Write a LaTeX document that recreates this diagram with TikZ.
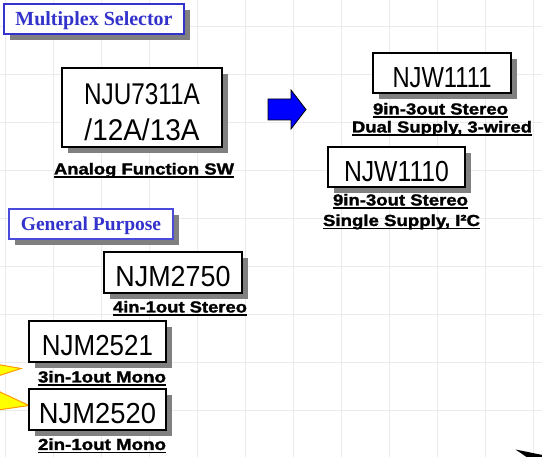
\documentclass[tikz,border=0pt]{standalone}
\usepackage{fontspec}
\usepackage{graphicx}
\setmainfont{Liberation Serif}
\newfontfamily\chipfont{Liberation Sans}
\newfontfamily\labfont[BoldFeatures={FakeBold=1.5}]{Liberation Sans}
\usetikzlibrary{shadows}
\newcommand\fitw[2]{\resizebox{#1}{\height}{#2}}
\definecolor{gridc}{HTML}{EBEBEB}
\definecolor{hdrblue}{HTML}{3333CC}
\definecolor{hdrblue2}{HTML}{4A4ADD}
\definecolor{shadowc}{HTML}{808080}
\definecolor{arrowblue}{HTML}{0000FF}
\definecolor{wedgey}{HTML}{FFFF00}
\definecolor{wedgeo}{HTML}{FF9900}
\begin{document}
\begin{tikzpicture}[x=1pt,y=-1pt,
  gridline/.style={draw=gridc, line width=1pt},
  shad/.style={drop shadow={shadow xshift=6pt,shadow yshift=-6pt,opacity=1,fill=shadowc}},
  hdr/.style={draw=hdrblue, line width=1.2pt, fill=white, text=hdrblue, inner sep=0pt, shad, text height=14pt, text depth=0pt},
  chip/.style={draw=black, line width=1.2pt, fill=white, inner sep=0pt, shad, font=\chipfont\fontsize{29}{34}\selectfont, text height=29pt, text depth=0pt},
  chiptwo/.style={draw=black, line width=1.2pt, fill=white, inner sep=0pt, shad, font=\chipfont\fontsize{30}{36}\selectfont, align=center},
  lab/.style={inner sep=0pt, anchor=base, font=\labfont\bfseries\fontsize{16}{19}\selectfont},
  ulin/.style={draw=black, line width=1.5pt},
  wedge/.style={fill=wedgey, draw=wedgeo, line width=1pt, line join=miter},
  bluearrow/.style={fill=arrowblue, draw=black, line width=0.8pt}
]
\useasboundingbox (0,0) rectangle (542,457);
\clip (0,0) rectangle (542,457);
\fill[white] (0,0) rectangle (542,457);
% grid
\foreach \x in {5,53,...,533} \draw[gridline] (\x,0) -- (\x,457);
\foreach \y in {27,75,...,411} \draw[gridline] (0,\y) -- (542,\y);
% partial shapes at the edges
\draw[wedge] (-2,364.5) -- (21,368.5) -- (-2,376) -- cycle;
\draw[wedge] (-2,391) -- (29,405.5) -- (-2,410) -- cycle;
\fill[black] (515.5,449.5) -- (545,455.5) -- (545,460) -- (531,460) -- cycle;
% blue arrow
\draw[bluearrow] (268,99) -- (291,99) -- (291,90) -- (306,109.5) -- (291,129) -- (291,120) -- (268,120) -- cycle;
% headers
\node[hdr, minimum width=180pt, minimum height=30pt, font=\bfseries\fontsize{20}{24}\selectfont] (mux) at (94,19) {Multiplex Selector};
\node[hdr, draw=hdrblue2, minimum width=164pt, minimum height=30pt, font=\bfseries\fontsize{19.5}{23}\selectfont] (gp) at (91,224) {General Purpose};
% chips
\node[chiptwo, minimum width=160pt, minimum height=79pt] (nju) at (142,107.5) {\rule{0pt}{30.5pt}\fitw{116pt}{NJU7311A}\\\fitw{115pt}{/12A/13A}};
\node[chip, minimum width=138pt, minimum height=40pt] (njw1111) at (442,73) {\fitw{99pt}{NJW1111}};
\node[chip, minimum width=137pt, minimum height=40pt] (njw1110) at (396.5,167) {\fitw{105pt}{NJW1110}};
\node[chip, minimum width=138pt, minimum height=41pt] (njm2750) at (173,272.5) {\fitw{115pt}{NJM2750}};
\node[chip, minimum width=137pt, minimum height=41pt] (njm2521) at (97.5,341.5) {\fitw{111pt}{NJM2521}};
\node[chip, minimum width=137pt, minimum height=41pt] (njm2520) at (97.5,409.5) {\fitw{117pt}{NJM2520}};
% labels
\node[lab] (ana) at (144,174.5) {\fitw{180pt}{Analog Function SW}};
\node[lab] (w11a) at (440.5,114.5) {\fitw{135pt}{9in-3out Stereo}};
\node[lab] (w11b) at (442,132.5) {\fitw{180pt}{Dual Supply, 3-wired}};
\node[lab] (w10a) at (400.5,205.5) {\fitw{135pt}{9in-3out Stereo}};
\node[lab] (w10b) at (401.5,226) {\fitw{157pt}{Single Supply, I²C}};
\node[lab] (m50) at (180,312.5) {\fitw{134pt}{4in-1out Stereo}};
\node[lab] (m21) at (102,382.5) {\fitw{128pt}{3in-1out Mono}};
\node[lab] (m20) at (102,450) {\fitw{128pt}{2in-1out Mono}};
\foreach \n in {ana,w11a,w11b,w10a,w10b,m50,m21,m20}
  \draw[ulin] ([yshift=-2.5pt]\n.base west) -- ([yshift=-2.5pt]\n.base east);
\end{tikzpicture}
\end{document}
